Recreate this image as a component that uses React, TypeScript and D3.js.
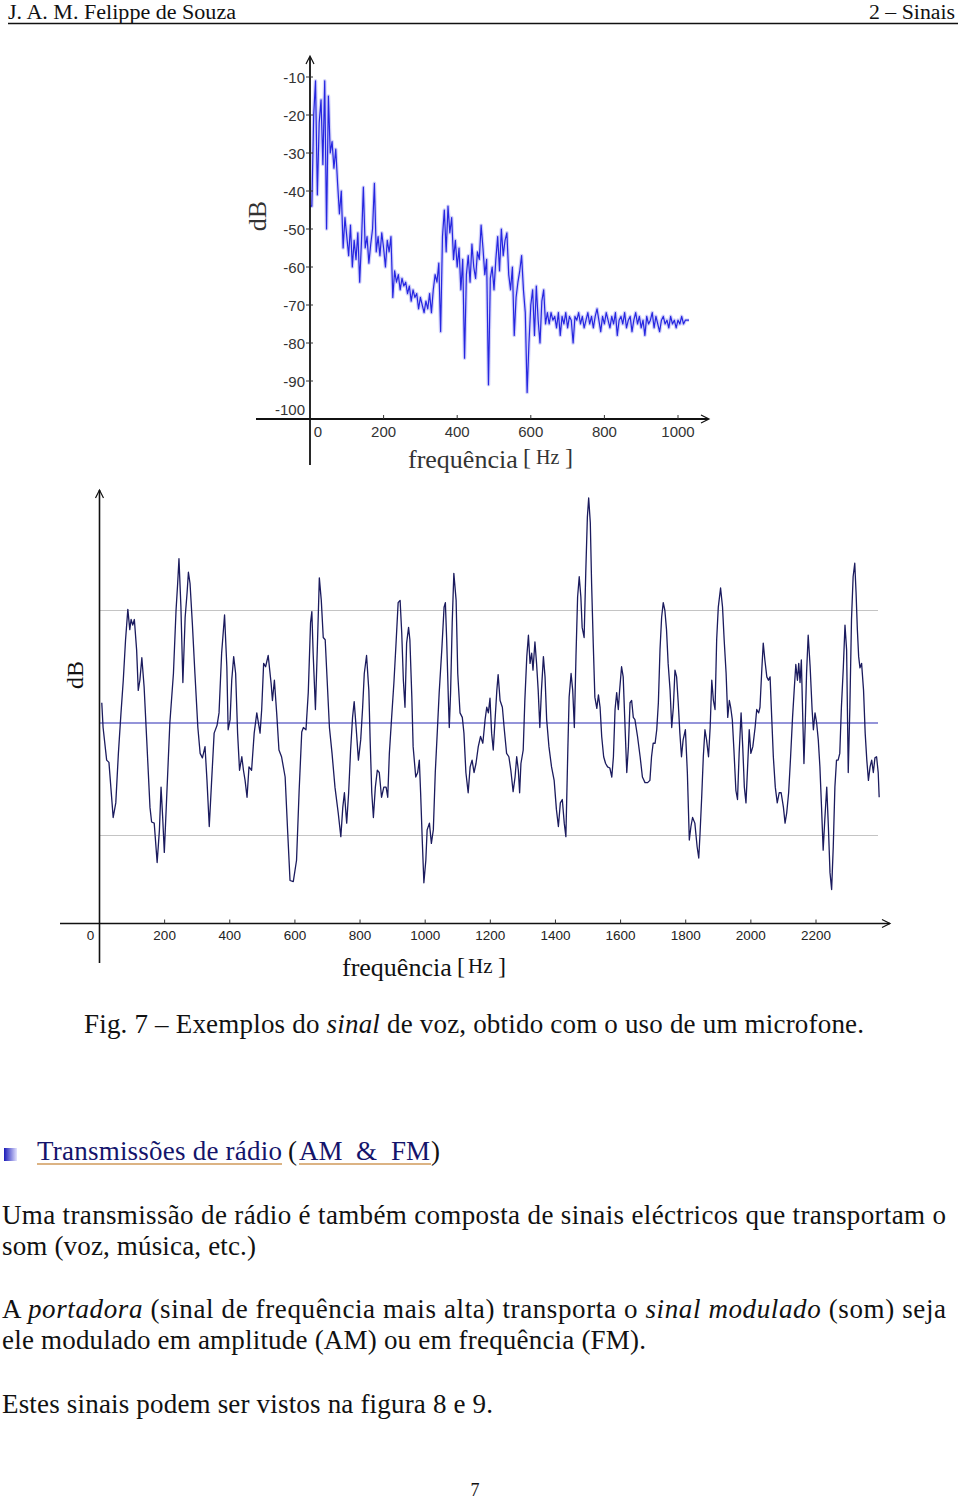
import React from 'react';
import * as d3 from 'd3';

// ---------- Top chart: speech spectrum (dB vs Hz) ----------
const topFreqStep = 5; // Hz between spectrum samples
const topDb: number[] = [
  -44, -44, -20, -11, -41, -22, -16, -33, -11, -50, -15,
  -30, -27, -34, -29, -38, -46, -40, -55, -47, -52,
  -57, -49, -60, -53, -58, -51, -64, -53, -39, -55,
  -52, -59, -54, -50, -38, -56, -52, -57, -51, -55,
  -60, -53, -56, -52, -68, -61, -64, -62, -66, -63,
  -65, -64, -67, -65, -69, -66, -68, -67, -71, -68,
  -70, -72, -69, -71, -67, -72, -66, -62, -64, -59,
  -77, -52, -45, -56, -44, -51, -47, -58, -53, -60,
  -55, -66, -58, -84, -62, -57, -64, -54, -60, -63,
  -56, -58, -49, -55, -62, -58, -91, -63, -60, -66,
  -58, -52, -61, -50, -57, -53, -51, -62, -66, -60,
  -78, -68, -64, -61, -57, -66, -72, -93, -80, -70,
  -66, -78, -65, -74, -80, -69, -66, -75, -72, -75,
  -72, -74, -73, -76, -72, -78, -73, -75, -72, -76,
  -73, -74, -80, -73, -74, -72, -75, -73, -76, -74,
  -72, -75, -73, -76, -73, -71, -74, -77, -73, -75,
  -72, -74, -76, -73, -75, -72, -78, -74, -73, -75,
  -72, -76, -74, -73, -77, -74, -72, -75, -73, -76,
  -74, -78, -73, -75, -74, -72, -76, -73, -75, -77,
  -74, -73, -75, -74, -76, -73, -75, -74, -76, -74,
  -75, -73, -75, -74, -74, -74,
];
const topXTicks = [0, 200, 400, 600, 800, 1000];
const topYTicks = [-10, -20, -30, -40, -50, -60, -70, -80, -90, -100];

// ---------- Bottom chart: voice signal (relative dB vs Hz) ----------
const bottomWave: [number, number][] = [
  [7, 1.8], [11, -0.4], [22, -3.3], [29, -3.5], [42, -8.4], [50, -7.1], [58, -2.7], [66, 0.9],
  [73, 3.8], [80, 7.4], [87, 10.1], [93, 8.3], [97, 9.2], [102, 8.7], [107, 9.2], [114, 6.5],
  [119, 2.9], [124, 3.8], [130, 5.8], [137, 3.2], [145, -1.5], [155, -7.5], [160, -8.8], [168, -8.9],
  [177, -12.4], [184, -9.5], [189, -5.7], [194, -8.4], [199, -11.5], [206, -6.8], [216, 0], [227, 4.4],
  [235, 10.0], [240, 12.4], [244, 14.6], [250, 10.3], [256, 3.6], [263, 9.4], [269, 11.6], [273, 13.4],
  [278, 12.4], [285, 8.9], [293, 4.4], [302, -0.4], [309, -2.7], [316, -3.1], [324, -2.1], [330, -5.1],
  [337, -9.2], [344, -5.3], [352, -0.9], [361, -0.2], [367, 0.9], [375, 6.2], [384, 9.6], [391, 5.0],
  [395, -0.6], [401, 0.3], [406, 3.8], [412, 5.9], [418, 4.4], [424, -0.9], [430, -4.2], [437, -3.0],
  [442, -4.2], [447, -5.1], [453, -6.6], [459, -3.9], [467, -4.2], [475, -0.9], [483, 0.9], [488, 0],
  [493, -0.9], [498, 1.2], [504, 5.3], [510, 5.0], [518, 6.0], [527, 3.5], [531, 2.0], [537, 3.8],
  [544, 0.9], [551, -2.4], [559, -3.0], [570, -4.8], [578, -9.8], [585, -14.0], [595, -14.1],
  [605, -12.2], [613, -6.0], [621, -0.8], [626, -0.4], [634, -0.6], [641, 2.7], [648, 8.9], [652, 9.9],
  [656, 6.2], [663, 1.2], [669, 6.8], [675, 12.9], [681, 10.9], [687, 7.6], [693, 7.4], [699, 3.8],
  [706, -0.4], [714, -2.7], [723, -5.7], [733, -8.0], [741, -10.1], [747, -7.5], [752, -6.2], [759, -8.9],
  [765, -6.2], [771, -2.4], [777, 0.5], [782, 1.9], [788, -0.4], [795, -3.3], [802, -1.5], [808, 1.4],
  [813, 4.4], [820, 6.0], [827, 2.9], [831, -1.5], [836, -6.2], [841, -8.4], [847, -5.7], [853, -4.2],
  [859, -4.4], [866, -6.6], [873, -5.7], [880, -5.7], [885, -6.6], [890, -2.7], [897, 0.5], [904, 3.6],
  [910, 6.8], [917, 10.7], [923, 10.9], [928, 8.0], [933, 3.8], [938, 1.4], [943, 7.1], [949, 8.5],
  [953, 7.4], [959, 2.3], [963, -2.1], [971, -4.8], [977, -4.4], [982, -3.3], [986, -6.2], [991, -10.4],
  [996, -14.2], [1002, -12.2], [1006, -9.5], [1013, -8.9], [1019, -10.7], [1025, -9.5], [1031, -4.4], [1037, -0.9],
  [1043, 2.7], [1051, 6.5], [1058, 10.3], [1062, 10.7], [1066, 7.4], [1071, 2.3], [1074, -0.4], [1078, 2.7],
  [1083, 8.9], [1088, 13.3], [1095, 10.9], [1100, 4.4], [1107, 0.9], [1114, 0.5], [1119, -0.9], [1125, -4.4],
  [1132, -6.2], [1138, -3.9], [1144, -3.3], [1150, -4.4], [1156, -3.6], [1163, -2.1], [1170, -1.2], [1177, -1.8],
  [1184, 0.3], [1189, 1.4], [1194, 0.9], [1199, 2.2], [1204, -0.9], [1209, -2.4], [1214, 0], [1220, 2.9],
  [1224, 4.3], [1230, 2.0], [1237, 1.4], [1243, -0.6], [1250, -2.7], [1257, -3.0], [1263, -4.2], [1270, -6.1],
  [1276, -4.8], [1281, -3.0], [1286, -4.2], [1290, -6.2], [1294, -3.6], [1301, -2.4], [1306, 2.0], [1312, 5.9],
  [1317, 7.8], [1322, 5.3], [1327, 6.2], [1331, 4.7], [1337, 7.2], [1342, 5.3], [1347, 2.9], [1352, -0.4],
  [1357, 2.9], [1363, 5.9], [1368, 4.1], [1373, 0.3], [1380, -2.1], [1388, -3.9], [1396, -5.1], [1403, -7.7],
  [1409, -9.2], [1415, -7.1], [1421, -6.8], [1427, -8.9], [1432, -10.1], [1438, -2.4], [1442, 2.3], [1448, 4.4],
  [1453, 2.9], [1458, -0.4], [1463, 5.9], [1468, 11.2], [1473, 13.0], [1478, 11.2], [1482, 8.5], [1488, 7.6],
  [1493, 13.3], [1498, 18.3], [1502, 20.0], [1507, 17.8], [1511, 12.4], [1516, 7.1], [1521, 2.3], [1527, 1.3],
  [1532, 2.5], [1537, 1.4], [1542, -1.2], [1548, -3.0], [1554, -3.6], [1560, -3.9], [1567, -4.0], [1573, -4.8],
  [1578, -3.0], [1583, 1.2], [1588, 2.7], [1593, 1.2], [1597, 2.9], [1603, 5.0], [1608, 4.1], [1614, -0.6],
  [1619, -4.4], [1624, -2.1], [1629, 1.8], [1634, 2.0], [1639, 0.5], [1644, 0.3], [1652, -1.2], [1660, -3.0],
  [1667, -4.8], [1675, -5.3], [1683, -5.3], [1690, -5.1], [1695, -3.0], [1700, -1.8], [1706, -1.8], [1711, -0.6],
  [1716, 1.8], [1721, 6.5], [1726, 9.4], [1731, 10.7], [1736, 10.0], [1741, 8.3], [1746, 5.3], [1752, 2.9],
  [1757, -0.4], [1762, 1.4], [1767, 4.7], [1772, 4.1], [1777, 1.8], [1782, -0.9], [1787, -3.0], [1792, -1.5],
  [1799, -0.6], [1805, -4.4], [1811, -10.4], [1816, -9.2], [1821, -8.4], [1828, -8.9], [1835, -11.0], [1840, -12.0],
  [1844, -9.8], [1849, -6.6], [1854, -3.0], [1859, -0.6], [1864, -1.5], [1870, -3.0], [1875, -0.4], [1880, 3.8],
  [1885, 2.0], [1890, 1.2], [1895, 7.4], [1900, 10.3], [1907, 12.0], [1913, 10.3], [1918, 7.4], [1924, 4.4],
  [1929, 0.5], [1934, 2.0], [1938, 1.4], [1943, 0.3], [1948, -2.4], [1954, -6.0], [1959, -6.8], [1964, -2.7],
  [1970, 0.9], [1975, -2.1], [1980, -5.7], [1985, -7.1], [1990, -3.9], [1995, -0.6], [2000, -2.7], [2006, -2.1],
  [2013, -0.4], [2018, 1.2], [2024, 0.9], [2028, 1.4], [2033, 4.4], [2038, 7.1], [2043, 5.6], [2049, 4.1],
  [2054, 3.8], [2059, 4.1], [2064, 0.5], [2069, -3.0], [2075, -5.7], [2081, -7.1], [2087, -6.2], [2093, -6.2],
  [2100, -7.5], [2105, -8.9], [2110, -8.0], [2116, -6.2], [2122, -3.0], [2128, 0.5], [2133, 2.9], [2138, 5.2],
  [2143, 3.8], [2147, 5.3], [2151, 3.6], [2155, 5.6], [2159, 0.9], [2163, -3.6], [2167, 0], [2171, 4.4],
  [2176, 7.8], [2182, 5.0], [2188, 1.2], [2192, -0.6], [2197, 0.9], [2202, 0], [2207, -1.5], [2212, -3.9],
  [2217, -7.5], [2222, -11.3], [2227, -8.6], [2233, -5.7], [2238, -9.2], [2243, -13.3], [2248, -14.8], [2253, -11.0],
  [2258, -5.7], [2263, -3.3], [2268, -3.3], [2273, -2.7], [2278, 1.4], [2284, 5.0], [2289, 8.7], [2294, 6.5],
  [2299, -4.4], [2304, 1.4], [2309, 9.2], [2314, 13.0], [2319, 14.2], [2323, 11.6], [2327, 8.3], [2331, 5.9],
  [2335, 4.9], [2340, 5.3], [2346, 2.9], [2351, -0.9], [2356, -3.3], [2361, -5.1], [2366, -3.9], [2371, -3.3],
  [2376, -4.4], [2381, -3.1], [2386, -3.0], [2391, -4.4], [2394, -6.6],
];
const bottomXTicks = [0, 200, 400, 600, 800, 1000, 1200, 1400, 1600, 1800, 2000, 2200];
const bottomGridLevels = [10, -10];
const bottomRefLevel = 0;

const SERIF = "'Liberation Serif', 'Times New Roman', serif";
const SANS = "'Liberation Sans', Arial, sans-serif";

export default function App() {
  // top chart scales
  const tx = d3.scaleLinear().domain([0, 1000]).range([310, 678]);
  const ty = d3.scaleLinear().domain([-100, -10]).range([419, 77]);
  const topPath = d3
    .line<number>()
    .x((_, i) => tx(i * topFreqStep))
    .y((d) => ty(d))(topDb) as string;

  // bottom chart scales
  const bx = d3.scaleLinear().domain([0, 2200]).range([99.5, 816]);
  const by = d3.scaleLinear().domain([-10, 10]).range([835.5, 610.5]);
  const bottomPath = d3
    .line<[number, number]>()
    .x((d) => bx(d[0]))
    .y((d) => by(d[1]))(bottomWave) as string;

  const topAxisX = tx(0);
  const topAxisY = ty(-100);
  const botAxisX = bx(0);
  const botAxisY = 923.5;

  return (
    <svg
      width={960}
      height={1502}
      viewBox="0 0 960 1502"
      style={{ position: 'absolute', left: 0, top: 0, background: '#fff' }}
    >
      <defs>
        <linearGradient id="bulletGrad" x1="0" x2="1" y1="0" y2="0">
          <stop offset="0" stopColor="#1a1ab8" />
          <stop offset="1" stopColor="#e4e4ff" />
        </linearGradient>
      </defs>
      <rect x={0} y={0} width={960} height={1502} fill="#fff" />

      {/* Header */}
      <text x={8} y={18.5} fontFamily={SERIF} fontSize={20} fill="#111" textLength={228} lengthAdjust="spacingAndGlyphs">
        J. A. M. Felippe de Souza
      </text>
      <text x={869} y={18.5} fontFamily={SERIF} fontSize={20} fill="#111" textLength={86} lengthAdjust="spacingAndGlyphs">
        2 – Sinais
      </text>
      <line x1={8} x2={958} y1={23.5} y2={23.5} stroke="#111" strokeWidth={1.5} />

      {/* ---------- Top chart ---------- */}
      <g>
        <path d={topPath} fill="none" stroke="#9a9af4" strokeWidth={3.6} strokeOpacity={0.45} strokeLinejoin="round" />
        <path d={topPath} fill="none" stroke="#2626e0" strokeWidth={1.2} strokeLinejoin="round" />
        {/* axes */}
        <line x1={topAxisX} x2={topAxisX} y1={57} y2={465} stroke="#111" strokeWidth={1.8} />
        <line x1={256} x2={708} y1={topAxisY} y2={topAxisY} stroke="#111" strokeWidth={1.8} />
        <path d={`M${topAxisX - 4},${64} L${topAxisX},${56} L${topAxisX + 4},${64}`} fill="none" stroke="#111" strokeWidth={1.2} />
        <path d={`M${701},${topAxisY - 4} L${709},${topAxisY} L${701},${topAxisY + 4}`} fill="none" stroke="#111" strokeWidth={1.2} />
        {topYTicks.map((t) => (
          <g key={'ty' + t}>
            {t !== -100 && <line x1={topAxisX - 4} x2={topAxisX + 3} y1={ty(t)} y2={ty(t)} stroke="#333" strokeWidth={1} />}
            <text
              x={topAxisX - 5}
              y={ty(t) + (t === -100 ? -4 : 5.5)}
              textAnchor="end"
              fontFamily={SANS}
              fontSize={15}
              fill="#333"
            >
              {t}
            </text>
          </g>
        ))}
        {topXTicks.map((t) => (
          <g key={'tx' + t}>
            {t !== 0 && <line x1={tx(t)} x2={tx(t)} y1={topAxisY - 4} y2={topAxisY} stroke="#333" strokeWidth={1} />}
            <text
              x={t === 0 ? tx(t) + 8 : tx(t)}
              y={437}
              textAnchor="middle"
              fontFamily={SANS}
              fontSize={15}
              fill="#333"
            >
              {t}
            </text>
          </g>
        ))}
        <text
          transform="translate(266,216) rotate(-90)"
          textAnchor="middle"
          fontFamily={SERIF}
          fontSize={26}
          fill="#333"
        >
          dB
        </text>
        <text x={408} y={468} fontFamily={SERIF} fontSize={26} fill="#333">
          frequência
        </text>
        <text x={523} y={465} fontFamily={SERIF} fontSize={24} fill="#333">[</text>
        <text x={536} y={464} fontFamily={SERIF} fontSize={20} fill="#333">Hz</text>
        <text x={565} y={465} fontFamily={SERIF} fontSize={24} fill="#333">]</text>
      </g>

      {/* ---------- Bottom chart ---------- */}
      <g>
        {bottomGridLevels.map((g) => (
          <line key={'g' + g} x1={botAxisX} x2={878} y1={by(g)} y2={by(g)} stroke="#c4c4c4" strokeWidth={1} />
        ))}
        <line x1={botAxisX} x2={878} y1={by(bottomRefLevel)} y2={by(bottomRefLevel)} stroke="#2b2bb4" strokeWidth={1.1} />
        <path d={bottomPath} fill="none" stroke="#1b1b5e" strokeWidth={1.3} strokeLinejoin="round" />
        {/* axes */}
        <line x1={botAxisX} x2={botAxisX} y1={490} y2={963} stroke="#111" strokeWidth={1.6} />
        <line x1={60} x2={890} y1={botAxisY} y2={botAxisY} stroke="#111" strokeWidth={1.4} />
        <path d={`M${botAxisX - 4},${498} L${botAxisX},${490} L${botAxisX + 4},${498}`} fill="none" stroke="#111" strokeWidth={1.2} />
        <path d={`M${882},${botAxisY - 4} L${890},${botAxisY} L${882},${botAxisY + 4}`} fill="none" stroke="#111" strokeWidth={1.2} />
        {bottomXTicks.map((t) => (
          <g key={'bx' + t}>
            {t !== 0 && <line x1={bx(t)} x2={bx(t)} y1={botAxisY - 4} y2={botAxisY} stroke="#333" strokeWidth={1} />}
            <text
              x={t === 0 ? bx(t) - 9 : bx(t)}
              y={940}
              textAnchor="middle"
              fontFamily={SANS}
              fontSize={13.5}
              fill="#222"
            >
              {t}
            </text>
          </g>
        ))}
        <text
          transform="translate(83,675) rotate(-90)"
          textAnchor="middle"
          fontFamily={SERIF}
          fontSize={24}
          fill="#111"
        >
          dB
        </text>
        <text x={342} y={976} fontFamily={SERIF} fontSize={26} fill="#111">
          frequência
        </text>
        <text x={457} y={974} fontFamily={SERIF} fontSize={24} fill="#111">[</text>
        <text x={468} y={973} fontFamily={SERIF} fontSize={21} fill="#111">Hz</text>
        <text x={498} y={974} fontFamily={SERIF} fontSize={24} fill="#111">]</text>
      </g>

      {/* Caption */}
      <text x={84} y={1033} fontFamily={SERIF} fontSize={27} fill="#111" textLength={780} lengthAdjust="spacing">
        Fig. 7 – Exemplos do <tspan fontStyle="italic">sinal</tspan> de voz, obtido com o uso de um microfone.
      </text>

      {/* Section heading */}
      <rect x={4} y={1148} width={13} height={13} fill="url(#bulletGrad)" />
      <text x={37} y={1160} fontFamily={SERIF} fontSize={27} fill="#14146b" textLength={245} lengthAdjust="spacing">
        Transmissões de rádio
      </text>
      <text x={288} y={1160} fontFamily={SERIF} fontSize={27} fill="#111">(</text>
      <text x={299} y={1160} fontFamily={SERIF} fontSize={27} fill="#14146b">AM</text>
      <text x={356} y={1160} fontFamily={SERIF} fontSize={27} fill="#14146b">&amp;</text>
      <text x={391} y={1160} fontFamily={SERIF} fontSize={27} fill="#14146b">FM</text>
      <text x={431} y={1160} fontFamily={SERIF} fontSize={27} fill="#111">)</text>
      <line x1={37} x2={282} y1={1164} y2={1164} stroke="#d09a5a" strokeWidth={1.5} />
      <line x1={299} x2={431} y1={1164} y2={1164} stroke="#d09a5a" strokeWidth={1.5} />

      {/* Paragraphs */}
      <text x={2} y={1224} fontFamily={SERIF} fontSize={27} fill="#111" textLength={944} lengthAdjust="spacing">
        Uma transmissão de rádio é também composta de sinais eléctricos que transportam o
      </text>
      <text x={2} y={1255} fontFamily={SERIF} fontSize={27} fill="#111" textLength={254} lengthAdjust="spacing">
        som (voz, música, etc.)
      </text>
      <text x={2} y={1318} fontFamily={SERIF} fontSize={27} fill="#111" textLength={944} lengthAdjust="spacing">
        A <tspan fontStyle="italic">portadora</tspan> (sinal de frequência mais alta) transporta o{' '}
        <tspan fontStyle="italic">sinal modulado</tspan> (som) seja
      </text>
      <text x={2} y={1349} fontFamily={SERIF} fontSize={27} fill="#111" textLength={644} lengthAdjust="spacing">
        ele modulado em amplitude (AM) ou em frequência (FM).
      </text>
      <text x={2} y={1413} fontFamily={SERIF} fontSize={27} fill="#111" textLength={491} lengthAdjust="spacing">
        Estes sinais podem ser vistos na figura 8 e 9.
      </text>

      {/* Page number */}
      <text x={475} y={1496} textAnchor="middle" fontFamily={SERIF} fontSize={18} fill="#111">
        7
      </text>
    </svg>
  );
}
